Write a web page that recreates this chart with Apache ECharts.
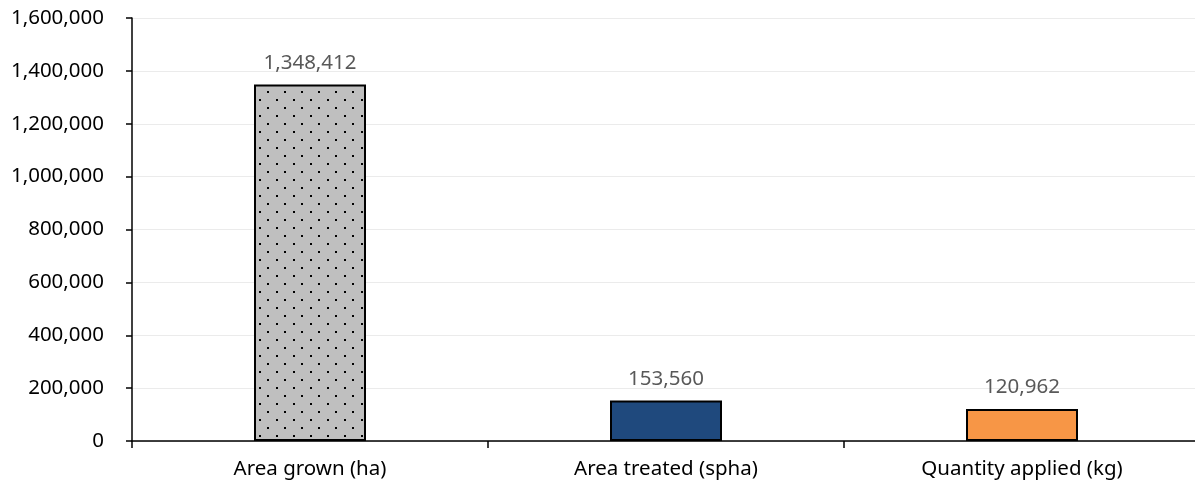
<!DOCTYPE html>
<html>
<head>
<meta charset="utf-8">
<script src="https://cdn.jsdelivr.net/npm/echarts@6/dist/echarts.min.js"></script>
<style>
  html, body { margin: 0; padding: 0; background: #fff; overflow: hidden; }
  /* plot area runs slightly past the right edge of the window */
  #chart { width: 1200px; height: 486px; }
</style>
</head>
<body>
<div id="chart"></div>
<script>
const categories = ['Area grown (ha)', 'Area treated (spha)', 'Quantity applied (kg)'];
const values = [1348412, 153560, 120962];
const barColors = ['dots', '#1f497d', '#f79646'];

// Dotted fill: light grey with staggered black dots
function dotPattern() {
  const c = document.createElement('canvas');
  c.width = 17; c.height = 16;
  const g = c.getContext('2d');
  g.fillStyle = '#bfbfbf';
  g.fillRect(0, 0, 17, 16);
  g.fillStyle = '#000';
  g.fillRect(4, 3, 2, 2);
  g.fillRect(12, 11, 2, 2);
  return c;
}
const pattern = { image: dotPattern(), repeat: 'repeat' };

const fmt = v => v.toLocaleString('en-US');
const font = '"Noto Sans", sans-serif';

const chart = echarts.init(document.getElementById('chart'), null, { renderer: 'canvas' });
chart.setOption({
  animation: false,
  grid: { left: 132, top: 18, right: 0, bottom: 45, containLabel: false },
  xAxis: {
    type: 'category',
    data: categories,
    axisLine: { lineStyle: { color: '#000', width: 1.5 } },
    axisTick: { show: true, length: 7, lineStyle: { color: '#000', width: 1.5 } },
    axisLabel: { color: '#000', fontSize: 20.5, fontFamily: font, margin: 18 }
  },
  yAxis: {
    type: 'value',
    min: 0, max: 1600000, interval: 200000,
    axisLine: { show: true, lineStyle: { color: '#000', width: 1.5 } },
    axisTick: { show: true, length: 6, lineStyle: { color: '#000', width: 1.5 } },
    axisLabel: { color: '#000', fontSize: 20.5, fontFamily: font, margin: 28, formatter: fmt },
    splitLine: { lineStyle: { color: '#ebebeb', width: 1 } }
  },
  series: [{
    type: 'bar',
    barWidth: 112,
    data: values.map((v, i) => ({
      value: v,
      itemStyle: {
        color: barColors[i] === 'dots' ? pattern : barColors[i],
        borderColor: '#000',
        borderWidth: 2
      }
    })),
    label: {
      show: true,
      position: 'top',
      distance: 11,
      color: '#595959',
      fontSize: 20.5,
      fontFamily: font,
      formatter: p => fmt(p.value)
    }
  }]
});
</script>
</body>
</html>
